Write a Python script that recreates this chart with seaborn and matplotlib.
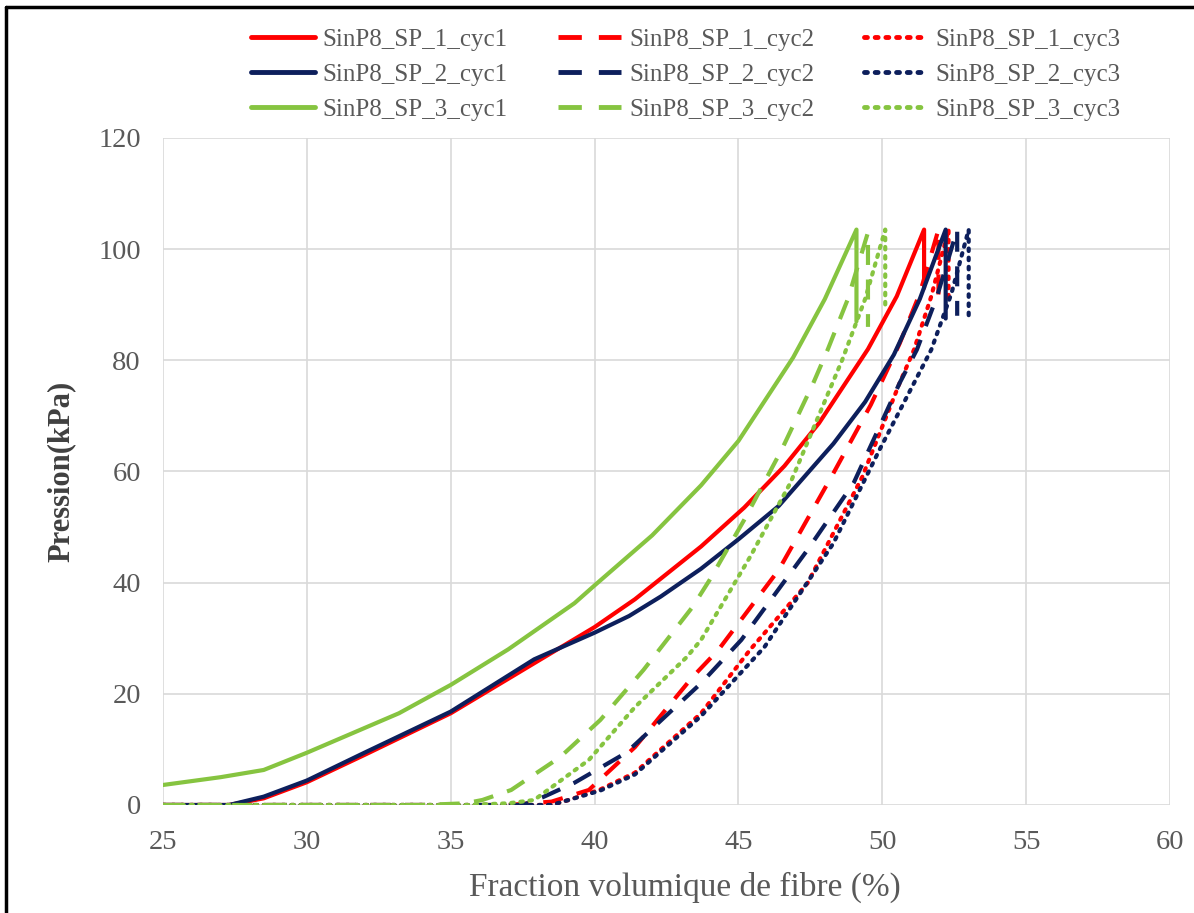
import matplotlib
matplotlib.use('Agg')
import pandas as pd
import matplotlib.pyplot as plt
import seaborn as sns
import numpy as np
from matplotlib.lines import Line2D

# SinP8_SP_1
sp1_c1_x = [25, 27.3, 28.5, 30, 32, 35, 37.9, 40, 41.4, 43.7, 45.2, 46.6, 47.8, 49.5, 50.5, 51.45, 51.45]
sp1_c1_y = [0, 0, 1.2, 4.1, 9, 16.5, 25.5, 32, 37, 46.5, 53.5, 61, 68.7, 82, 91.5, 103.5, 93]
sp1_c2_x = [25, 37, 38.5, 39.8, 41.4, 43.4, 44.3, 46.4, 48.3, 49.6, 50.6, 51.3, 51.95, 51.95]
sp1_c2_y = [0, 0, 0.6, 2.7, 10.4, 23, 27.9, 42.3, 59.7, 72, 83, 92, 103.5, 90]
sp1_c3_x = [25, 38.5, 39.1, 40.2, 41.4, 43.7, 45.4, 47.4, 49.3, 50.6, 51.1, 51.7, 52.3, 52.3]
sp1_c3_y = [0, 0, 0.9, 2.8, 5.8, 16.5, 27.9, 39.9, 59, 75.9, 81.9, 91.5, 103.5, 91]

# SinP8_SP_2
sp2_c1_x = [25, 27.3, 28.5, 30, 32, 35, 37.9, 40, 41.2, 42.3, 43.7, 45, 46.4, 48.3, 49.4, 50.4, 51.3, 52.2, 52.2]
sp2_c1_y = [0, 0, 1.5, 4.4, 9.4, 16.8, 26.2, 31, 34, 37.5, 42.5, 47.8, 53.8, 65, 72.5, 81, 91, 103.5, 87.5]
sp2_c2_x = [25, 37.5, 38.2, 39.3, 41.1, 42.7, 43.7, 45.1, 47.4, 49.0, 50.6, 51.2, 51.9, 52.6, 52.6]
sp2_c2_y = [0, 0, 1.4, 4.0, 9.4, 17.1, 21.9, 29.7, 45.9, 57.9, 75.9, 81.9, 91.5, 103.5, 88]
sp2_c3_x = [25, 38.5, 39.1, 40.2, 41.4, 43.7, 45.9, 48.3, 49.9, 51.7, 52.4, 53.0, 53.0]
sp2_c3_y = [0, 0, 0.9, 2.6, 5.5, 16, 28.4, 47.1, 63.9, 81.9, 92, 103.5, 88]

# SinP8_SP_3
sp3_c1_x = [25, 27, 28.5, 30, 33.2, 35, 37, 39.3, 40, 42, 43.7, 45, 46.9, 48.0, 49.1, 49.1]
sp3_c1_y = [3.6, 5, 6.3, 9.4, 16.5, 21.6, 28, 36.3, 39.5, 48.5, 57.5, 65.5, 80.5, 91, 103.5, 87]
sp3_c2_x = [25, 34, 35.5, 36.1, 37.1, 38.8, 40.2, 41.7, 43.4, 44.0, 45.2, 46.5, 47.6, 48.1, 48.8, 49.5, 49.5]
sp3_c2_y = [0, 0, 0.3, 0.9, 2.7, 8.6, 15.3, 24.3, 35.6, 40.5, 51.3, 63.9, 75.9, 81.9, 91, 103, 86]
sp3_c3_x = [25, 35.5, 37.0, 37.9, 39.8, 41.4, 43.2, 43.7, 45.4, 46.8, 48.6, 49.4, 50.1, 50.1]
sp3_c3_y = [0, 0, 0.3, 0.9, 8.1, 17.6, 26.6, 29.7, 44.6, 57.9, 80, 91, 103.5, 90]

x_ticks = [25, 30, 35, 40, 45, 50, 55, 60]
y_ticks = [0, 20, 40, 60, 80, 100, 120]

colors = {"1": "#FF0000", "2": "#0D1F5C", "3": "#86C440"}
styles = {"cyc1": "-", "cyc2": (0, (4.8, 3.5)), "cyc3": (0, (0.6, 1.6))}

series = [
    ("1", "cyc1", sp1_c1_x, sp1_c1_y), ("1", "cyc2", sp1_c2_x, sp1_c2_y), ("1", "cyc3", sp1_c3_x, sp1_c3_y),
    ("2", "cyc1", sp2_c1_x, sp2_c1_y), ("2", "cyc2", sp2_c2_x, sp2_c2_y), ("2", "cyc3", sp2_c3_x, sp2_c3_y),
    ("3", "cyc1", sp3_c1_x, sp3_c1_y), ("3", "cyc2", sp3_c2_x, sp3_c2_y), ("3", "cyc3", sp3_c3_x, sp3_c3_y),
]

sns.set_style("white")
plt.rcParams['font.family'] = ['Liberation Serif', 'DejaVu Serif']

fig = plt.figure(figsize=(11.94, 9.13), dpi=100)
ax = fig.add_axes([0.1365, 0.1183, 0.8435, 0.7307])

handles = {}
for sp, cyc, xs, ys in series:
    df = pd.DataFrame({"x": xs, "y": ys})
    sns.lineplot(data=df, x="x", y="y", sort=False, estimator=None, ax=ax,
                 color=colors[sp], linestyle=styles[cyc], linewidth=3,
                 dash_capstyle='round' if cyc == "cyc3" else 'butt')
    handles[(sp, cyc)] = Line2D([], [], color=colors[sp], linestyle=styles[cyc], linewidth=3.5,
                                dash_capstyle='round' if cyc == "cyc3" else 'butt')

ax.set_xlim(25, 60)
ax.set_ylim(0, 120)
ax.set_xticks(x_ticks)
ax.set_yticks(y_ticks)
ax.grid(True, color="#D9D9D9", linewidth=1.2)
for s in ax.spines.values():
    s.set_visible(False)
ax.tick_params(length=0, labelsize=20.5, labelcolor="#595959")
ax.tick_params(axis='x', pad=18)
ax.tick_params(axis='y', pad=16)
ax.set_xlabel("Fraction volumique de fibre (%)", fontsize=24, color="#595959", labelpad=12)
ax.xaxis.label.set_x(0.518)
ax.set_ylabel("Pression(kPa)", fontsize=22, color="#404040", fontweight='bold', labelpad=16)

order = [("1", "cyc1"), ("2", "cyc1"), ("3", "cyc1"),
         ("1", "cyc2"), ("2", "cyc2"), ("3", "cyc2"),
         ("1", "cyc3"), ("2", "cyc3"), ("3", "cyc3")]
leg = fig.legend([handles[k] for k in order],
                 ["SinP8_SP_%s_%s" % k for k in order],
                 ncol=3, loc="upper left", bbox_to_anchor=(0.2, 0.983),
                 frameon=False, fontsize=18, handlelength=2.55, handletextpad=0.3,
                 columnspacing=2.0, labelspacing=0.5, borderpad=0)
for t in leg.get_texts():
    t.set_color("#595959")

# black frame on top and left edge
fig.add_artist(Line2D([0.005, 1.0], [0.9925, 0.9925], color="black", linewidth=2.5, transform=fig.transFigure))
fig.add_artist(Line2D([0.005, 0.005], [0.0, 0.9925], color="black", linewidth=2.5, transform=fig.transFigure))

fig.savefig("out.png", dpi=100)
